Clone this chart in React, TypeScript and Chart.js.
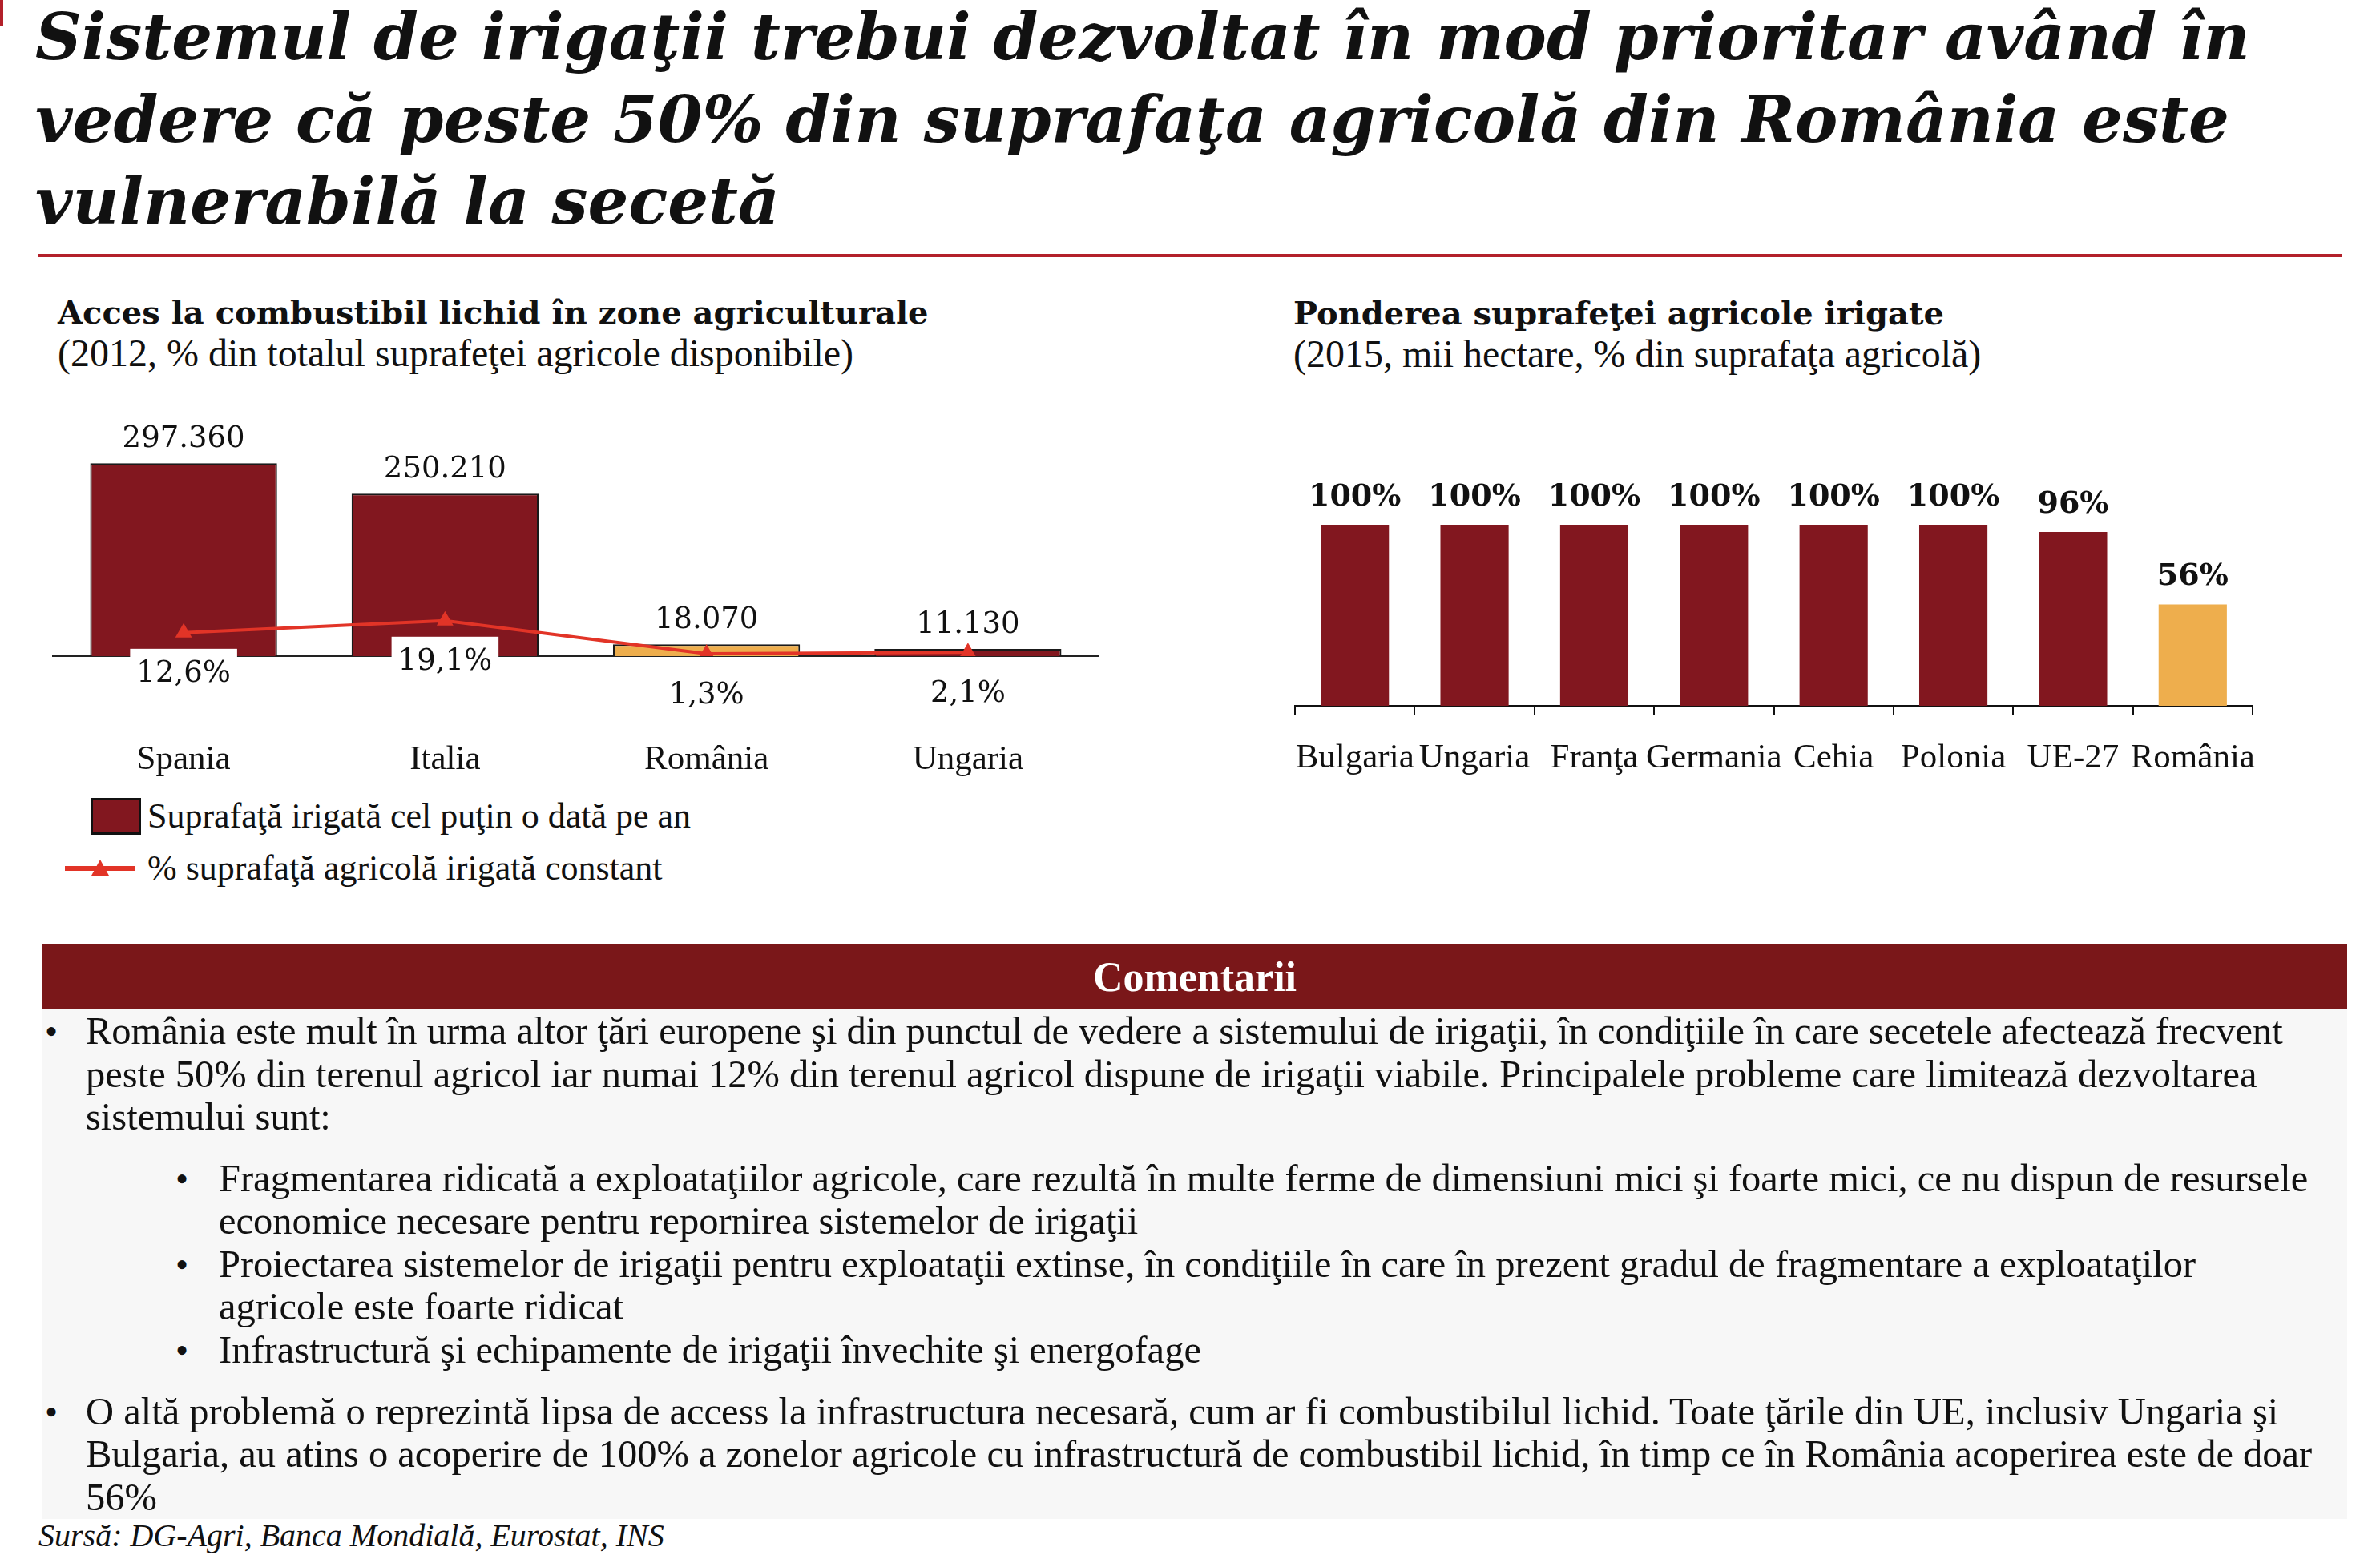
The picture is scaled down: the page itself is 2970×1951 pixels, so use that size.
import React, { useEffect, useRef } from 'react';
import { Chart, registerables } from 'chart.js';

Chart.register(...registerables);

// ---------- DATA ----------
const leftCategories = ['Spania', 'Italia', 'România', 'Ungaria'];
const leftIrrigatedArea = [297360, 250210, 18070, 11130];
const leftConstantPct = [12.6, 19.1, 1.3, 2.1];
const leftBarColors = ['#82171f', '#82171f', '#eeae4d', '#82171f'];
const leftBarLegend = 'Suprafaţă irigată cel puţin o dată pe an';
const leftLineLegend = '% suprafaţă agricolă irigată constant';

const rightCategories = ['Bulgaria', 'Ungaria', 'Franţa', 'Germania', 'Cehia', 'Polonia', 'UE-27', 'România'];
const rightShare = [100, 100, 100, 100, 100, 100, 96, 56];
const rightBarColors = ['#82171f', '#82171f', '#82171f', '#82171f', '#82171f', '#82171f', '#82171f', '#eeae4d'];

const titleLines = [
  'Sistemul de irigaţii trebui dezvoltat în mod prioritar având în',
  'vedere că peste 50% din suprafaţa agricolă din România este',
  'vulnerabilă la secetă',
];
const leftTitle = 'Acces la combustibil lichid în zone agriculturale';
const leftSubtitle = '(2012, % din totalul suprafeţei agricole disponibile)';
const rightTitle = 'Ponderea suprafeţei agricole irigate';
const rightSubtitle = '(2015, mii hectare, % din suprafaţa agricolă)';
const commentHeader = 'Comentarii';
const commentLines: { text: string; level: number; bullet: boolean }[] = [
  { text: 'România este mult în urma altor ţări europene şi din punctul de vedere a sistemului de irigaţii, în condiţiile în care secetele afectează frecvent', level: 0, bullet: true },
  { text: 'peste 50% din terenul agricol iar numai 12% din terenul agricol dispune de irigaţii viabile. Principalele probleme care limitează dezvoltarea', level: 0, bullet: false },
  { text: 'sistemului sunt:', level: 0, bullet: false },
  { text: 'Fragmentarea ridicată a exploataţiilor agricole, care rezultă în multe ferme de dimensiuni mici şi foarte mici, ce nu dispun de resursele', level: 1, bullet: true },
  { text: 'economice necesare pentru repornirea sistemelor de irigaţii', level: 1, bullet: false },
  { text: 'Proiectarea sistemelor de irigaţii pentru exploataţii extinse, în condiţiile în care în prezent gradul de fragmentare a exploataţilor', level: 1, bullet: true },
  { text: 'agricole este foarte ridicat', level: 1, bullet: false },
  { text: 'Infrastructură şi echipamente de irigaţii învechite şi energofage', level: 1, bullet: true },
  { text: 'O altă problemă o reprezintă lipsa de access la infrastructura necesară, cum ar fi combustibilul lichid. Toate ţările din UE, inclusiv Ungaria şi', level: 0, bullet: true },
  { text: 'Bulgaria, au atins o acoperire de 100% a zonelor agricole cu infrastructură de combustibil lichid, în timp ce în România acoperirea este de doar', level: 0, bullet: false },
  { text: '56%', level: 0, bullet: false },
];
const sourceText = 'Sursă: DG-Agri, Banca Mondială, Eurostat, INS';

// ---------- LAYOUT ----------
const LIB = "'Liberation Serif', 'Times New Roman', serif";
const DV = "'DejaVu Serif', serif";
const DARK = '#82171f';
const LINE_RED = '#e23427';
const commentBaselines = [1303, 1357, 1410, 1487, 1540, 1594, 1647, 1701, 1778, 1831, 1885];

const fmtThousands = (v: number) => String(v).replace(/\B(?=(\d{3})+(?!\d))/g, '.');
const fmtPctComma = (v: number) => v.toFixed(1).replace('.', ',') + '%';
const fmtPct = (v: number) => `${v}%`;

// plugin drawing value labels from element positions
const valueLabelPlugin = {
  id: 'valueLabelPlugin',
  afterDraw(chart: any) {
    const ctx = chart.ctx;
    chart.data.datasets.forEach((ds: any, i: number) => {
      const cfg = ds.valueLabel;
      if (!cfg) return;
      const meta = chart.getDatasetMeta(i);
      meta.data.forEach((el: any, j: number) => {
        const text = cfg.format(ds.data[j]);
        const x = el.x;
        const y = cfg.below ? el.y + cfg.offset : el.y - cfg.offset;
        ctx.save();
        ctx.font = cfg.font;
        if (cfg.box) {
          const w = ctx.measureText(text).width + 2 * cfg.boxPadX;
          ctx.fillStyle = '#ffffff';
          ctx.fillRect(x - w / 2, y - cfg.boxHalfH, w, 2 * cfg.boxHalfH);
        }
        ctx.fillStyle = cfg.color;
        ctx.textAlign = 'center';
        ctx.textBaseline = 'middle';
        ctx.fillText(text, x, y);
        ctx.restore();
      });
    });
  },
};

function T(props: {
  x: number; baseline: number; size: number; weight?: string; italic?: boolean; color?: string;
  children: React.ReactNode; center?: boolean; width?: number; spacing?: number; dv?: boolean;
}) {
  const lh = props.size * 1.3;
  const asc = props.dv ? 0.928 : 0.891;
  const desc = props.dv ? 0.236 : 0.216;
  const top = props.baseline - (lh - (asc + desc) * props.size) / 2 - asc * props.size;
  return (
    <div
      style={{
        position: 'absolute',
        left: props.x,
        top,
        width: props.width,
        textAlign: props.center ? 'center' : 'left',
        fontFamily: props.dv ? DV : LIB,
        fontSize: props.size,
        lineHeight: `${lh}px`,
        fontWeight: props.weight || 'normal',
        fontStyle: props.italic ? 'italic' : 'normal',
        color: props.color || '#111',
        whiteSpace: 'nowrap',
        letterSpacing: props.spacing,
      }}
    >
      {props.children}
    </div>
  );
}

function LeftChart() {
  const ref = useRef<HTMLCanvasElement>(null);
  useEffect(() => {
    if (!ref.current) return;
    const chart = new Chart(ref.current, {
      type: 'bar',
      data: {
        labels: leftCategories,
        datasets: [
          {
            type: 'line',
            label: leftLineLegend,
            data: leftConstantPct,
            yAxisID: 'y2',
            borderColor: LINE_RED,
            backgroundColor: LINE_RED,
            borderWidth: 4,
            pointStyle: 'triangle',
            pointRadius: 12,
            pointBorderWidth: 0,
            pointBackgroundColor: LINE_RED,
            tension: 0,
            order: 0,
            valueLabel: {
              format: fmtPctComma, below: true, offset: 52, font: `37px ${DV}`, color: '#111',
              box: true, boxPadX: 8, boxHalfH: 32,
            },
          } as any,
          {
            type: 'bar',
            label: leftBarLegend,
            data: leftIrrigatedArea,
            yAxisID: 'y',
            backgroundColor: leftBarColors,
            borderColor: '#1a1a1a',
            borderWidth: 2,
            barPercentage: 0.715,
            categoryPercentage: 1,
            order: 1,
            valueLabel: { format: fmtThousands, below: false, offset: 30, font: `37px ${DV}`, color: '#111' },
          } as any,
        ],
      },
      options: {
        responsive: false,
        animation: false,
        layout: { padding: { left: 20, right: 20, top: 100, bottom: 0 } },
        plugins: { legend: { display: false }, tooltip: { enabled: false } },
        scales: {
          x: {
            offset: true,
            grid: { display: false },
            border: { display: true, color: '#222', width: 2 },
            ticks: { padding: 96, color: '#111', font: { family: LIB, size: 43 }, maxRotation: 0, minRotation: 0, autoSkip: false },
            afterFit: (s: any) => { s.height = 160; s.paddingLeft = 0; s.paddingRight = 0; },
          },
          y: { display: false, min: 0, max: 300000 },
          y2: { display: false, min: 0, max: 105, position: 'right' },
        },
      } as any,
      plugins: [valueLabelPlugin],
    });
    return () => chart.destroy();
  }, []);
  return <canvas ref={ref} width={1345} height={503} style={{ position: 'absolute', left: 46, top: 476, width: 1345, height: 503 }} />;
}

function RightChart() {
  const ref = useRef<HTMLCanvasElement>(null);
  useEffect(() => {
    if (!ref.current) return;
    const chart = new Chart(ref.current, {
      type: 'bar',
      data: {
        labels: rightCategories,
        datasets: [
          {
            label: rightTitle,
            data: rightShare,
            backgroundColor: rightBarColors,
            borderWidth: 0,
            barPercentage: 0.57,
            categoryPercentage: 1,
            valueLabel: { format: fmtPct, below: false, offset: 34, font: `bold 38px ${DV}`, color: '#111' },
          } as any,
        ],
      },
      options: {
        responsive: false,
        animation: false,
        layout: { padding: { left: 20, right: 20, top: 100, bottom: 0 } },
        plugins: { legend: { display: false }, tooltip: { enabled: false } },
        scales: {
          x: {
            offset: true,
            grid: { display: true, drawOnChartArea: false, drawTicks: true, tickLength: 12, offset: true, color: '#111', lineWidth: 2 },
            border: { display: true, color: '#111', width: 3 },
            ticks: { padding: 28, color: '#111', font: { family: LIB, size: 43 }, maxRotation: 0, minRotation: 0, autoSkip: false },
            afterFit: (s: any) => { s.height = 120; s.paddingLeft = 0; s.paddingRight = 0; },
          },
          y: { display: false, min: 0, max: 100 },
        },
      } as any,
      plugins: [valueLabelPlugin],
    });
    return () => chart.destroy();
  }, []);
  return <canvas ref={ref} width={1235} height={446} style={{ position: 'absolute', left: 1596, top: 555, width: 1235, height: 446 }} />;
}

export default function App() {
  return (
    <div style={{ position: 'absolute', left: 0, top: 0, width: 2970, height: 1951, background: '#fff', overflow: 'hidden' }}>
      {/* top-left red mark */}
      <div style={{ position: 'absolute', left: 0, top: 0, width: 4, height: 33, background: '#b3202a' }} />
      {/* main title */}
      {titleLines.map((t, i) => (
        <T key={i} dv x={44} baseline={74 + i * 102.5} size={80} weight="bold" italic>{t}</T>
      ))}
      <div style={{ position: 'absolute', left: 47, top: 317, width: 2875, height: 4, background: '#b3202a' }} />

      {/* left chart titles */}
      <T dv x={72} baseline={404} size={40} weight="bold">{leftTitle}</T>
      <T x={72} baseline={457} size={48}>{leftSubtitle}</T>
      <LeftChart />
      {/* left legend */}
      <div style={{ position: 'absolute', left: 113, top: 996, width: 57, height: 40, background: DARK, border: '3px solid #111' }} />
      <T x={184} baseline={1033} size={44}>{leftBarLegend}</T>
      <div style={{ position: 'absolute', left: 81, top: 1081, width: 87, height: 6, background: LINE_RED }} />
      <div style={{ position: 'absolute', left: 114, top: 1073, width: 0, height: 0, borderLeft: '11px solid transparent', borderRight: '11px solid transparent', borderBottom: `20px solid ${LINE_RED}` }} />
      <T x={184} baseline={1098} size={44}>{leftLineLegend}</T>

      {/* right chart titles */}
      <T dv x={1614} baseline={405} size={40} weight="bold">{rightTitle}</T>
      <T x={1614} baseline={458} size={48}>{rightSubtitle}</T>
      <RightChart />

      {/* comments */}
      <div style={{ position: 'absolute', left: 53, top: 1178, width: 2876, height: 82, background: '#7a1719' }} />
      <T x={53} width={2876} center baseline={1237} size={52} weight="bold" color="#fff">{commentHeader}</T>
      <div style={{ position: 'absolute', left: 53, top: 1260, width: 2876, height: 636, background: '#f7f7f7' }} />
      {commentLines.map((l, i) => (
        <React.Fragment key={i}>
          {l.bullet && <T x={l.level === 0 ? 56 : 219} baseline={commentBaselines[i]} size={46}>•</T>}
          <T x={l.level === 0 ? 107 : 273} baseline={commentBaselines[i]} size={48.5}>{l.text}</T>
        </React.Fragment>
      ))}
      <T x={48} baseline={1930} size={40} italic>{sourceText}</T>
    </div>
  );
}
